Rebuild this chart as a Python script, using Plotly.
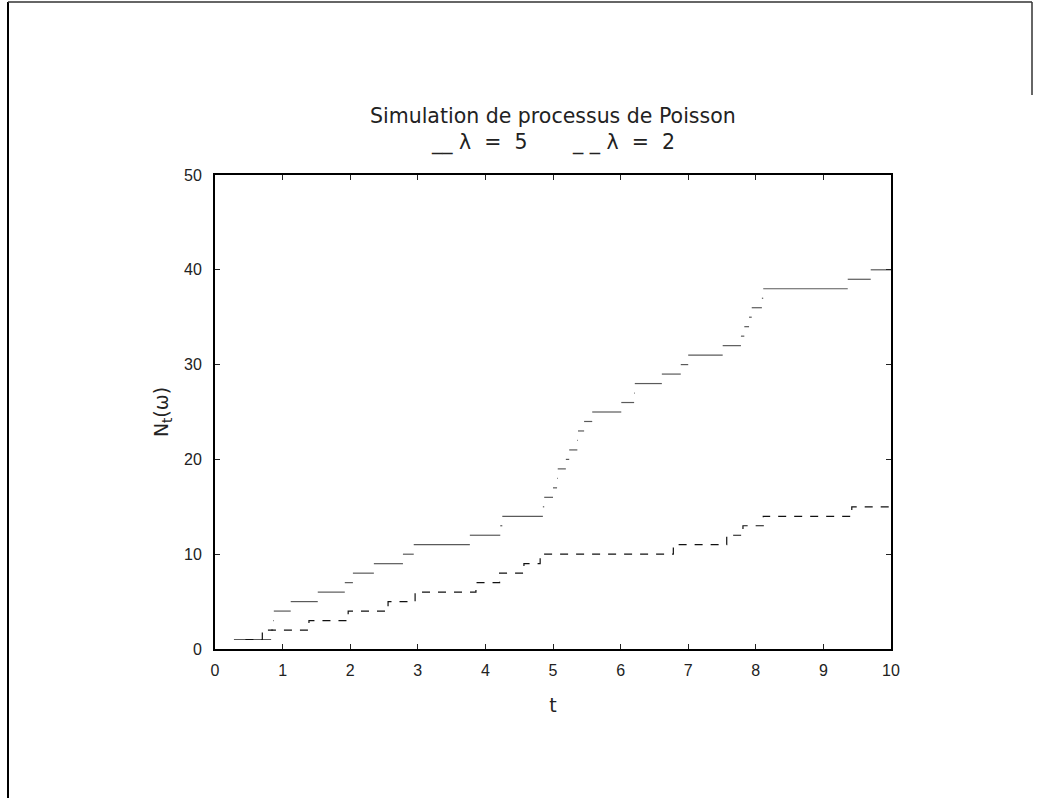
import plotly.graph_objects as go

# Jump times (start of each level) for the two Poisson processes
t_lam5 = [0.28, 0.83, 0.86, 0.87, 1.12, 1.52, 1.92, 2.04, 2.35, 2.78,
          2.94, 3.77, 4.22, 4.25, 4.85, 4.87, 5.00, 5.06, 5.07, 5.19,
          5.24, 5.36, 5.37, 5.46, 5.58, 6.01, 6.20, 6.21, 6.61, 6.89,
          7.00, 7.51, 7.78, 7.83, 7.90, 7.94, 8.09, 8.11, 9.36, 9.70]
n_lam5 = list(range(1, 41))

t_lam2 = [0.45, 0.70, 1.39, 1.97, 2.56, 2.96, 3.86, 4.21, 4.57, 4.81,
          6.78, 7.57, 7.81, 8.11, 9.42]
n_lam2 = list(range(1, 16))

t_end = 10.0

x_ticks = list(range(0, 11))
y_ticks = [0, 10, 20, 30, 40, 50]

NB = "\u00a0"
title_line1 = "Simulation de processus de Poisson"
title_line2 = ("_" + NB + "_" + NB + "λ" + NB * 2 + "=" + NB * 2 + "5" + NB * 7 +
               "_" + NB * 2 + "_" + NB + "λ" + NB * 2 + "=" + NB * 2 + "2")
title_line2 = ("__" + NB + "λ" + NB * 2 + "=" + NB * 2 + "5" + NB * 7 +
               "_" + NB + "_" + NB + "λ" + NB * 2 + "=" + NB * 2 + "2")

# lambda = 5 : horizontal segments only
xs5, ys5 = [], []
for i, (t, n) in enumerate(zip(t_lam5, n_lam5)):
    t_next = t_lam5[i + 1] if i + 1 < len(t_lam5) else t_end
    xs5 += [t, t_next, None]
    ys5 += [n, n, None]

# lambda = 2 : dashed step curve
xs2 = t_lam2 + [t_end]
ys2 = n_lam2 + [n_lam2[-1]]

fig = go.Figure()
fig.add_trace(go.Scatter(x=xs5, y=ys5, mode="lines",
                         line=dict(color="#5a5a5a", width=1.2),
                         connectgaps=False, showlegend=False))
fig.add_trace(go.Scatter(x=xs2, y=ys2, mode="lines", line_shape="hv",
                         line=dict(color="#111111", width=1.2, dash="8px,8px"),
                         showlegend=False))

W, H = 1039, 798
L, R, T, B = 215, 891, 175, 649


def px(xp):
    return (xp - L) / (R - L)


def py(yp):
    return (B - yp) / (B - T)


tfont = dict(family="DejaVu Sans, Liberation Sans, sans-serif", color="#222222")

fig.update_layout(
    width=W, height=H,
    margin=dict(l=L, r=W - R, t=T, b=H - B, pad=0),
    paper_bgcolor="white", plot_bgcolor="white",
    font=dict(family="Liberation Sans, Arial, sans-serif", size=16, color="#222222"),
    xaxis=dict(range=[0, 10], tickvals=x_ticks, ticks="inside", ticklen=5,
               tickwidth=1, tickcolor="#222", showgrid=False, zeroline=False,
               showline=True, linewidth=2, linecolor="black", mirror="allticks",
               ticklabelstandoff=6,
               title=dict(text="t", font=dict(size=19, **tfont), standoff=20)),
    yaxis=dict(range=[0, 50], tickvals=y_ticks, ticks="inside", ticklen=5,
               tickwidth=1, tickcolor="#222", showgrid=False, zeroline=False,
               showline=True, linewidth=2, linecolor="black", mirror="allticks",
               ticklabelstandoff=8,
               title=dict(text="N<sub>t</sub>(ω)", font=dict(size=19, **tfont),
                          standoff=10)),
    annotations=[
        dict(text=title_line1, xref="paper", yref="paper", x=px(553), y=py(116),
             showarrow=False, xanchor="center", yanchor="middle",
             font=dict(size=20.5, **tfont)),
        dict(text=title_line2, xref="paper", yref="paper", x=px(553), y=py(143),
             showarrow=False, xanchor="center", yanchor="middle",
             font=dict(size=20.5, **tfont)),
    ],
    shapes=[
        dict(type="line", xref="paper", yref="paper", x0=px(8), x1=px(8),
             y0=py(2), y1=py(798), line=dict(color="black", width=2)),
        dict(type="line", xref="paper", yref="paper", x0=px(8), x1=px(1032),
             y0=py(2), y1=py(2), line=dict(color="#333333", width=1.5)),
        dict(type="line", xref="paper", yref="paper", x0=px(1032), x1=px(1032),
             y0=py(2), y1=py(95), line=dict(color="#333333", width=1.5)),
    ],
)

fig.write_html("out.html")
